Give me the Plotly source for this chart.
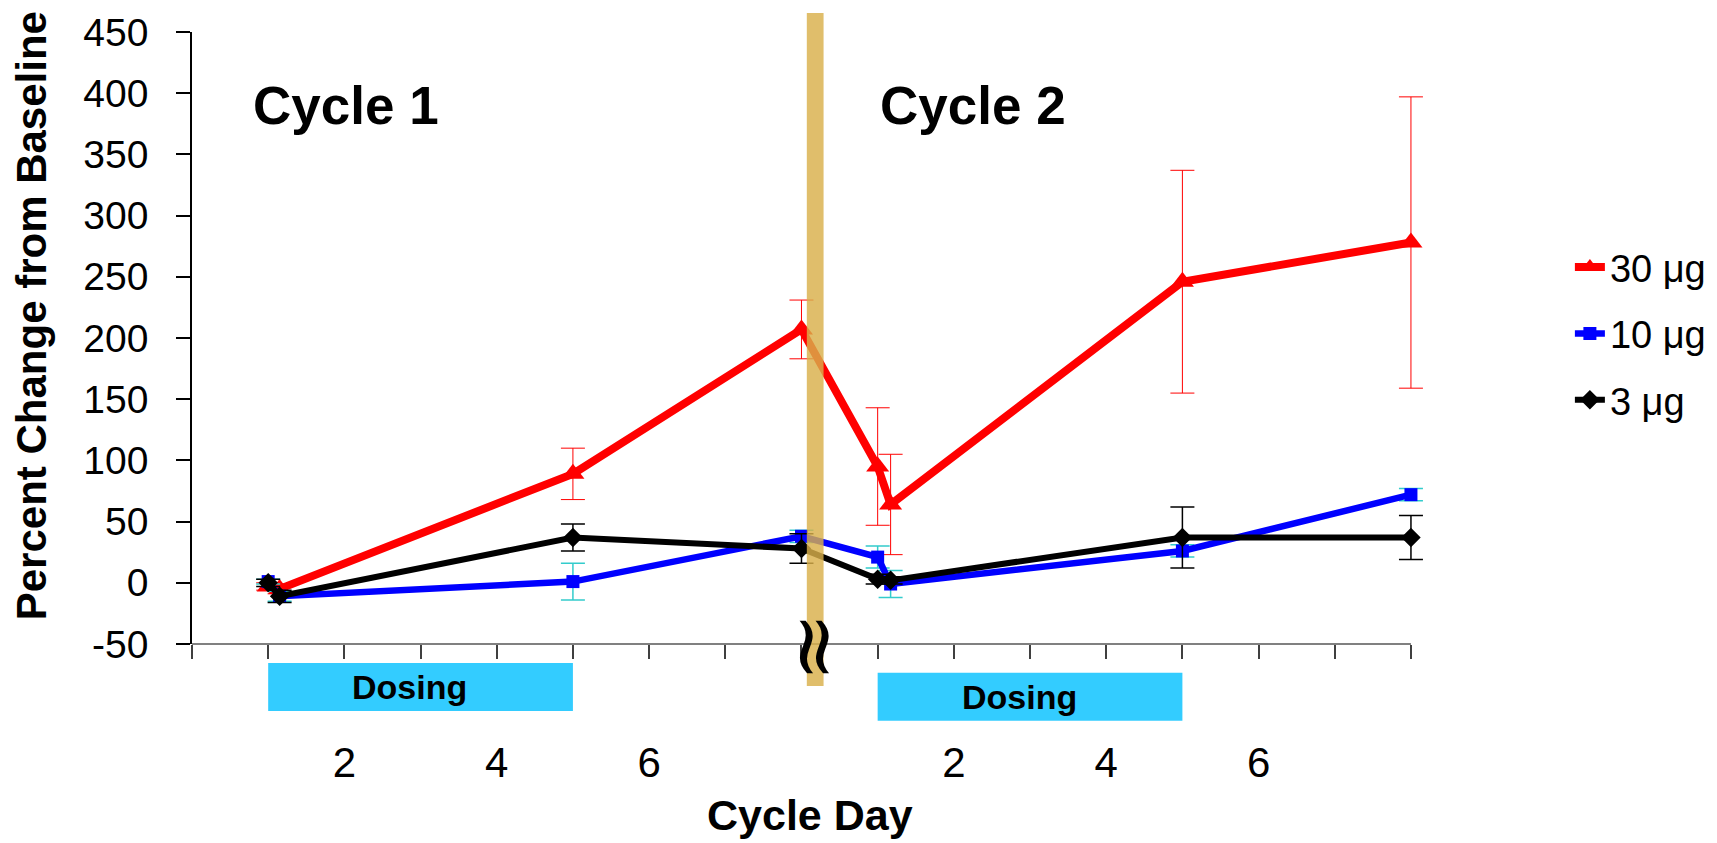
import plotly.graph_objects as go

# ---------------- data ----------------
cycle_len = 8
days_c1 = [1, 1.15, 5, 8]          # cycle 1 sampling days
days_c2 = [1, 1.17, 5, 8]          # cycle 2 sampling days
series_names = ["30 μg", "10 μg", "3 μg"]
v30 = [-3, -5, 89, 207, 95, 64, 246, 278]
e30 = [3, 4, 21, 24, 48, 41, 91, 119]
v10 = [1, -11, 1, 38, 21, -1, 26, 72]
e10 = [2, 4, 15, 5, 9, 11, 5, 5]
v3 = [0, -11, 37, 28, 3, 2, 37, 37]
e3 = [3, 5, 11, 12, 4, 3, 25, 18]
tick_days = [2, 4, 6]
y_ticks = [-50, 0, 50, 100, 150, 200, 250, 300, 350, 400, 450]
y_ticktext = ["-50", "0", "50", "100", "150", "200", "250", "300", "350", "400", "450"]
dosing_days = [1, 5]
cycle_labels = ["Cycle 1", "Cycle 2"]

x_all = days_c1 + [d + cycle_len for d in days_c2]
x_end = 2 * cycle_len

FONT = "Liberation Sans, Arial, sans-serif"

styles = [
    dict(color="#FF0000", err="#FF0000", ew=1, symbol="triangle-up", size=20, lw=8),
    dict(color="#0000FF", err="#33CCCC", ew=1.5, symbol="square", size=13, lw=6.5),
    dict(color="#000000", err="#000000", ew=1.5, symbol="diamond", size=15, lw=6),
]
values = [v30, v10, v3]
errors = [e30, e10, e3]

fig = go.Figure()
for name, vals, errs, st in zip(series_names, values, errors, styles):
    fig.add_trace(go.Scatter(
        x=x_all, y=vals, name=name, mode="lines+markers",
        legendgroup=name, cliponaxis=False,
        line=dict(color=st["color"], width=st["lw"]),
        marker=dict(symbol=st["symbol"], size=st["size"], color=st["color"]),
        error_y=dict(type="data", array=errs, visible=True,
                     color=st["err"], thickness=st["ew"], width=12),
    ))

# x ticks: every day, labels only on selected days of each cycle
tickvals = list(range(0, x_end + 1))
ticktext = []
for v in tickvals:
    day = v if v < cycle_len else v - cycle_len
    ticktext.append(str(day) if (day in tick_days and v != cycle_len) else "")

shapes = []
annotations = []
# x axis line (drawn as shape so the axis stops at the last day)
shapes.append(dict(type="line", xref="x", yref="paper", x0=0, x1=x_end, y0=0, y1=0,
                   line=dict(color="#808080", width=2), layer="above"))
# dosing bars
for c in range(2):
    x0 = dosing_days[0] + c * cycle_len
    x1 = dosing_days[1] + c * cycle_len
    yoff = -0.016 * c
    shapes.append(dict(type="rect", xref="x", yref="paper", x0=x0, x1=x1,
                       y0=-0.1095 + yoff, y1=-0.031 + yoff,
                       fillcolor="#33CCFF", line=dict(width=0), layer="above"))
    annotations.append(dict(xref="x", yref="paper", x=(x0 + x1) / 2, xshift=-11,
                            y=-0.0703 + yoff, xanchor="center", yanchor="middle",
                            text="<b>Dosing</b>", showarrow=False,
                            font=dict(family=FONT, size=34, color="black")))
# gold break band
shapes.append(dict(type="rect", xref="x", yref="paper", x0=8.07, x1=8.29,
                   y0=-0.0686, y1=1.031, fillcolor="#D9B04A", opacity=0.82,
                   line=dict(width=0), layer="above"))
# break symbol
annotations.append(dict(xref="x", yref="paper", x=8.2, y=-0.004, text="≈",
                        xanchor="center", yanchor="middle",
                        textangle=90, showarrow=False,
                        font=dict(family="DejaVu Serif", size=84, color="black")))
# cycle labels
for i, lab in enumerate(cycle_labels):
    annotations.append(dict(xref="x", yref="y", x=[2.02, 10.25][i], y=390,
                            xanchor="center", yanchor="middle",
                            text="<b>" + lab + "</b>", showarrow=False,
                            font=dict(family=FONT, size=53, color="black")))
# axis titles
annotations.append(dict(xref="paper", yref="paper", x=-0.129, y=0.536,
                        xanchor="center", yanchor="middle",
                        text="<b>Percent Change from Baseline</b>", textangle=-90,
                        showarrow=False, font=dict(family=FONT, size=42, color="black")))
annotations.append(dict(xref="paper", yref="paper", x=0.499, y=-0.279,
                        xanchor="center", yanchor="middle",
                        text="<b>Cycle Day</b>", showarrow=False,
                        font=dict(family=FONT, size=43, color="black")))

fig.update_layout(
    width=1709, height=835,
    margin=dict(l=184, r=287, t=24, b=199, autoexpand=False),
    paper_bgcolor="white", plot_bgcolor="white",
    font=dict(family=FONT, color="black"),
    shapes=shapes, annotations=annotations,
    legend=dict(x=1.113, y=0.667, xanchor="left", yanchor="top",
                font=dict(family=FONT, size=38, color="black"),
                tracegroupgap=14, itemwidth=30, bgcolor="rgba(0,0,0,0)"),
    xaxis=dict(range=[0, x_end + 0.25], tickvals=tickvals, ticktext=ticktext,
               showgrid=False, zeroline=False, showline=False,
               ticks="outside", ticklen=14, tickcolor="#404040", tickwidth=1.5,
               ticklabelstandoff=68,
               tickfont=dict(family=FONT, size=42, color="black")),
    yaxis=dict(range=[-50, 450], tickvals=y_ticks, ticktext=y_ticktext,
               showgrid=False, zeroline=False, showline=True,
               linecolor="black", linewidth=1.5,
               ticks="outside", ticklen=14, tickcolor="black", tickwidth=1.5,
               ticklabelstandoff=20,
               tickfont=dict(family=FONT, size=39, color="black")),
)

fig.write_html("out.html")
